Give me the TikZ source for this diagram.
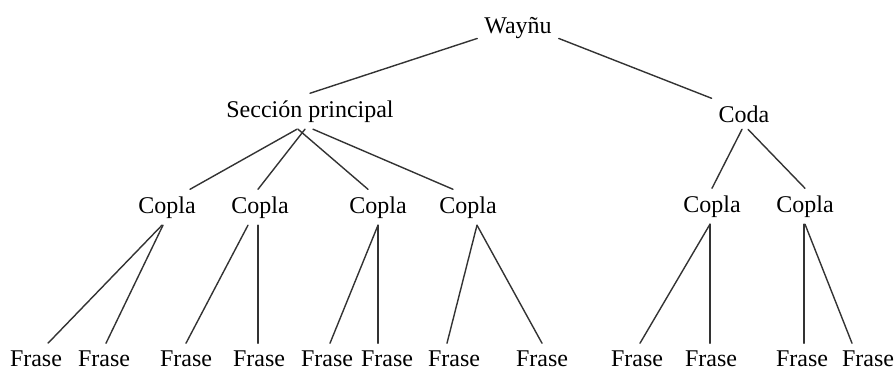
\documentclass[tikz,border=0pt]{standalone}
\usepackage{fontspec}
\setmainfont{Liberation Serif}
\usepackage{tikz}
\usetikzlibrary{calc}
\definecolor{rama}{rgb}{0.2,0.2,0.2}
\tikzstyle{every node}=[font=\fontsize{12}{14}\selectfont]

\begin{document}
\begin{tikzpicture}[line cap=round,line join=round,x=0.5pt,y=-0.5pt,
    parte/.style={anchor=base,text=black},
    rama/.style={line width=0.7pt,color=rama}]
\useasboundingbox (0,0) rectangle (896,372);
% niveles
\node[parte] (w)  at (518,33)  {Wayñu};
\node[parte] (sp) at (310,117) {Sección principal};
\node[parte] (cd) at (744,122) {Coda};
\node[parte] (c1) at (167,213) {Copla};
\node[parte] (c2) at (260,213) {Copla};
\node[parte] (c3) at (378,213) {Copla};
\node[parte] (c4) at (468,213) {Copla};
\node[parte] (c5) at (712,212) {Copla};
\node[parte] (c6) at (805,212) {Copla};
\node[parte] (f1)  at (36,366)  {Frase};
\node[parte] (f2)  at (104,366) {Frase};
\node[parte] (f3)  at (186,366) {Frase};
\node[parte] (f4)  at (259,366) {Frase};
\node[parte] (f5)  at (327,366) {Frase};
\node[parte] (f6)  at (387,366) {Frase};
\node[parte] (f7)  at (454,366) {Frase};
\node[parte] (f8)  at (542,366) {Frase};
\node[parte] (f9)  at (637,366) {Frase};
\node[parte] (f10) at (711,366) {Frase};
\node[parte] (f11) at (802,366) {Frase};
\node[parte] (f12) at (868,366) {Frase};

\draw [rama] (w.195) -- (sp.north);
\draw [rama] (w.-15) -- (cd.north west);

\draw [rama] ([xshift=-6.5pt]sp.south) -- ([xshift=11.5pt]c1.north);
\draw [rama] ([xshift=-2.5pt]sp.south) -- ([xshift=-1pt]c2.north);
\draw [rama] ([xshift=-6pt]sp.south) -- ([xshift=-5pt]c3.north);
\draw [rama] ([xshift=1.5pt]sp.south) -- ([xshift=-7.5pt]c4.north);
\draw [rama] ([xshift=-1pt]cd.south) -- (c5.north);
\draw [rama] ([xshift=2pt]cd.south) -- (c6.north);

\draw [rama] ([xshift=-2.5pt]c1.south) -- ([xshift=6pt]f1.north);
\draw [rama] ([xshift=-2pt]c1.south) -- ([xshift=1pt]f2.north);
\draw [rama] ([xshift=-6pt]c2.south) -- (f3.north);
\draw [rama] ([xshift=-1pt]c2.south) -- ([xshift=-1pt]c2.south |- f4.north);
\draw [rama] (c3.south) -- ([xshift=1.5pt]f5.north);
\draw [rama] (c3.south) -- (c3.south |- f6.north);
\draw [rama] ([xshift=4.5pt]c4.south) -- ([xshift=-3.5pt]f7.north);
\draw [rama] ([xshift=4.5pt]c4.south) -- (f8.north);
\draw [rama] ([xshift=-1pt]c5.south) -- ([xshift=1.5pt]f9.north);
\draw [rama] ([xshift=-1pt]c5.south) -- ([xshift=-1pt]c5.south |- f10.north);
\draw [rama] ([xshift=-0.5pt]c6.south) -- ([xshift=-0.5pt]c6.south |- f11.north);
\draw [rama] (c6.south) -- ([xshift=-8pt]f12.north);
\end{tikzpicture}
\end{document}
